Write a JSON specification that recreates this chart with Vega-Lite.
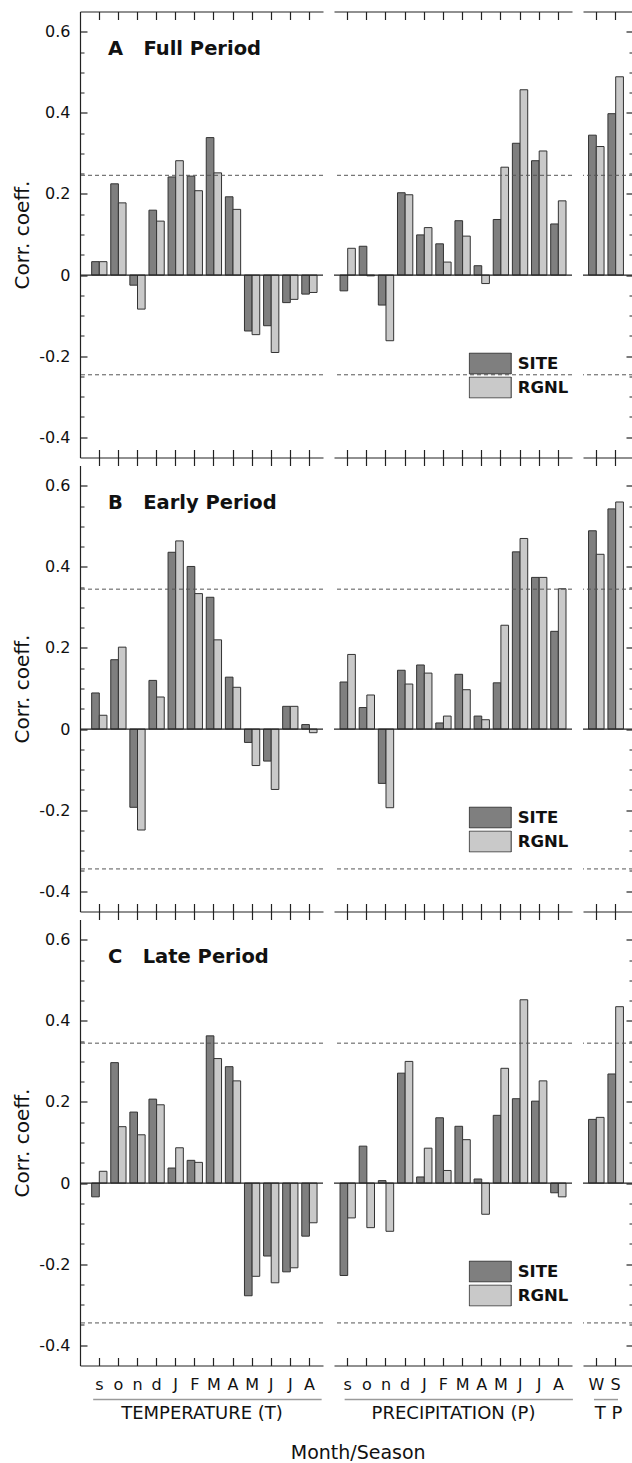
{
  "$schema": "https://vega.github.io/schema/vega-lite/v6.json",
  "padding": {"left": 12, "top": 10.5, "right": 0, "bottom": 0},
  "config": {
    "font": "DejaVu Sans",
    "view": {"stroke": null},
    "axis": {"minExtent": 0, "labelFont": "DejaVu Sans", "titleFont": "DejaVu Sans", "labelColor": "#111111", "titleColor": "#111111", "domainColor": "#222222", "tickColor": "#222222", "grid": false, "labelFontSize": 16, "titleFontWeight": "normal"},
    "legend": {"orient": "none", "legendX": 134.7, "legendY": 341, "title": null, "direction": "vertical", "gridAlign": "none", "clipHeight": 22, "symbolType": "M-1,-0.5H1V0.5H-1Z", "symbolSize": 1764, "symbolStrokeColor": "#333333", "symbolStrokeWidth": 1, "symbolOpacity": 1, "labelFont": "DejaVu Sans", "labelFontWeight": "bold", "labelFontSize": 16.5, "labelColor": "#111111", "labelOffset": 6, "rowPadding": 2, "padding": 0}
  },
  "title": {"text": "Month/Season", "orient": "bottom", "anchor": "middle", "fontSize": 19, "fontWeight": "normal", "font": "DejaVu Sans", "color": "#111111", "offset": 21, "dx": 35},
  "datasets": {
    "corr": [
      {"p":"A","g":"T","m":"sep","src":"SITE","v":0.033},{"p":"A","g":"T","m":"sep","src":"RGNL","v":0.033},
      {"p":"A","g":"T","m":"oct","src":"SITE","v":0.225},{"p":"A","g":"T","m":"oct","src":"RGNL","v":0.178},
      {"p":"A","g":"T","m":"nov","src":"SITE","v":-0.025},{"p":"A","g":"T","m":"nov","src":"RGNL","v":-0.084},
      {"p":"A","g":"T","m":"dec","src":"SITE","v":0.160},{"p":"A","g":"T","m":"dec","src":"RGNL","v":0.133},
      {"p":"A","g":"T","m":"Jan","src":"SITE","v":0.242},{"p":"A","g":"T","m":"Jan","src":"RGNL","v":0.282},
      {"p":"A","g":"T","m":"Feb","src":"SITE","v":0.244},{"p":"A","g":"T","m":"Feb","src":"RGNL","v":0.208},
      {"p":"A","g":"T","m":"Mar","src":"SITE","v":0.339},{"p":"A","g":"T","m":"Mar","src":"RGNL","v":0.252},
      {"p":"A","g":"T","m":"Apr","src":"SITE","v":0.193},{"p":"A","g":"T","m":"Apr","src":"RGNL","v":0.162},
      {"p":"A","g":"T","m":"May","src":"SITE","v":-0.138},{"p":"A","g":"T","m":"May","src":"RGNL","v":-0.147},
      {"p":"A","g":"T","m":"Jun","src":"SITE","v":-0.125},{"p":"A","g":"T","m":"Jun","src":"RGNL","v":-0.191},
      {"p":"A","g":"T","m":"Jul","src":"SITE","v":-0.068},{"p":"A","g":"T","m":"Jul","src":"RGNL","v":-0.060},
      {"p":"A","g":"T","m":"Aug","src":"SITE","v":-0.047},{"p":"A","g":"T","m":"Aug","src":"RGNL","v":-0.043},

      {"p":"A","g":"P","m":"sep","src":"SITE","v":-0.039},{"p":"A","g":"P","m":"sep","src":"RGNL","v":0.066},
      {"p":"A","g":"P","m":"oct","src":"SITE","v":0.071},{"p":"A","g":"P","m":"oct","src":"RGNL","v":-0.002},
      {"p":"A","g":"P","m":"nov","src":"SITE","v":-0.074},{"p":"A","g":"P","m":"nov","src":"RGNL","v":-0.162},
      {"p":"A","g":"P","m":"dec","src":"SITE","v":0.203},{"p":"A","g":"P","m":"dec","src":"RGNL","v":0.198},
      {"p":"A","g":"P","m":"Jan","src":"SITE","v":0.099},{"p":"A","g":"P","m":"Jan","src":"RGNL","v":0.117},
      {"p":"A","g":"P","m":"Feb","src":"SITE","v":0.077},{"p":"A","g":"P","m":"Feb","src":"RGNL","v":0.032},
      {"p":"A","g":"P","m":"Mar","src":"SITE","v":0.134},{"p":"A","g":"P","m":"Mar","src":"RGNL","v":0.096},
      {"p":"A","g":"P","m":"Apr","src":"SITE","v":0.023},{"p":"A","g":"P","m":"Apr","src":"RGNL","v":-0.021},
      {"p":"A","g":"P","m":"May","src":"SITE","v":0.137},{"p":"A","g":"P","m":"May","src":"RGNL","v":0.266},
      {"p":"A","g":"P","m":"Jun","src":"SITE","v":0.325},{"p":"A","g":"P","m":"Jun","src":"RGNL","v":0.457},
      {"p":"A","g":"P","m":"Jul","src":"SITE","v":0.282},{"p":"A","g":"P","m":"Jul","src":"RGNL","v":0.306},
      {"p":"A","g":"P","m":"Aug","src":"SITE","v":0.126},{"p":"A","g":"P","m":"Aug","src":"RGNL","v":0.183},

      {"p":"A","g":"S","m":"W","src":"SITE","v":0.345},{"p":"A","g":"S","m":"W","src":"RGNL","v":0.317},
      {"p":"A","g":"S","m":"S","src":"SITE","v":0.398},{"p":"A","g":"S","m":"S","src":"RGNL","v":0.489},

      {"p":"B","g":"T","m":"sep","src":"SITE","v":0.089},{"p":"B","g":"T","m":"sep","src":"RGNL","v":0.034},
      {"p":"B","g":"T","m":"oct","src":"SITE","v":0.171},{"p":"B","g":"T","m":"oct","src":"RGNL","v":0.202},
      {"p":"B","g":"T","m":"nov","src":"SITE","v":-0.193},{"p":"B","g":"T","m":"nov","src":"RGNL","v":-0.249},
      {"p":"B","g":"T","m":"dec","src":"SITE","v":0.120},{"p":"B","g":"T","m":"dec","src":"RGNL","v":0.079},
      {"p":"B","g":"T","m":"Jan","src":"SITE","v":0.436},{"p":"B","g":"T","m":"Jan","src":"RGNL","v":0.464},
      {"p":"B","g":"T","m":"Feb","src":"SITE","v":0.401},{"p":"B","g":"T","m":"Feb","src":"RGNL","v":0.334},
      {"p":"B","g":"T","m":"Mar","src":"SITE","v":0.325},{"p":"B","g":"T","m":"Mar","src":"RGNL","v":0.220},
      {"p":"B","g":"T","m":"Apr","src":"SITE","v":0.128},{"p":"B","g":"T","m":"Apr","src":"RGNL","v":0.103},
      {"p":"B","g":"T","m":"May","src":"SITE","v":-0.033},{"p":"B","g":"T","m":"May","src":"RGNL","v":-0.090},
      {"p":"B","g":"T","m":"Jun","src":"SITE","v":-0.079},{"p":"B","g":"T","m":"Jun","src":"RGNL","v":-0.149},
      {"p":"B","g":"T","m":"Jul","src":"SITE","v":0.056},{"p":"B","g":"T","m":"Jul","src":"RGNL","v":0.056},
      {"p":"B","g":"T","m":"Aug","src":"SITE","v":0.011},{"p":"B","g":"T","m":"Aug","src":"RGNL","v":-0.009},

      {"p":"B","g":"P","m":"sep","src":"SITE","v":0.116},{"p":"B","g":"P","m":"sep","src":"RGNL","v":0.184},
      {"p":"B","g":"P","m":"oct","src":"SITE","v":0.053},{"p":"B","g":"P","m":"oct","src":"RGNL","v":0.084},
      {"p":"B","g":"P","m":"nov","src":"SITE","v":-0.134},{"p":"B","g":"P","m":"nov","src":"RGNL","v":-0.194},
      {"p":"B","g":"P","m":"dec","src":"SITE","v":0.145},{"p":"B","g":"P","m":"dec","src":"RGNL","v":0.111},
      {"p":"B","g":"P","m":"Jan","src":"SITE","v":0.158},{"p":"B","g":"P","m":"Jan","src":"RGNL","v":0.138},
      {"p":"B","g":"P","m":"Feb","src":"SITE","v":0.015},{"p":"B","g":"P","m":"Feb","src":"RGNL","v":0.032},
      {"p":"B","g":"P","m":"Mar","src":"SITE","v":0.135},{"p":"B","g":"P","m":"Mar","src":"RGNL","v":0.097},
      {"p":"B","g":"P","m":"Apr","src":"SITE","v":0.032},{"p":"B","g":"P","m":"Apr","src":"RGNL","v":0.023},
      {"p":"B","g":"P","m":"May","src":"SITE","v":0.114},{"p":"B","g":"P","m":"May","src":"RGNL","v":0.256},
      {"p":"B","g":"P","m":"Jun","src":"SITE","v":0.437},{"p":"B","g":"P","m":"Jun","src":"RGNL","v":0.470},
      {"p":"B","g":"P","m":"Jul","src":"SITE","v":0.374},{"p":"B","g":"P","m":"Jul","src":"RGNL","v":0.374},
      {"p":"B","g":"P","m":"Aug","src":"SITE","v":0.241},{"p":"B","g":"P","m":"Aug","src":"RGNL","v":0.346},

      {"p":"B","g":"S","m":"W","src":"SITE","v":0.489},{"p":"B","g":"S","m":"W","src":"RGNL","v":0.431},
      {"p":"B","g":"S","m":"S","src":"SITE","v":0.543},{"p":"B","g":"S","m":"S","src":"RGNL","v":0.560},

      {"p":"C","g":"T","m":"sep","src":"SITE","v":-0.034},{"p":"C","g":"T","m":"sep","src":"RGNL","v":0.029},
      {"p":"C","g":"T","m":"oct","src":"SITE","v":0.297},{"p":"C","g":"T","m":"oct","src":"RGNL","v":0.139},
      {"p":"C","g":"T","m":"nov","src":"SITE","v":0.175},{"p":"C","g":"T","m":"nov","src":"RGNL","v":0.119},
      {"p":"C","g":"T","m":"dec","src":"SITE","v":0.207},{"p":"C","g":"T","m":"dec","src":"RGNL","v":0.193},
      {"p":"C","g":"T","m":"Jan","src":"SITE","v":0.037},{"p":"C","g":"T","m":"Jan","src":"RGNL","v":0.087},
      {"p":"C","g":"T","m":"Feb","src":"SITE","v":0.056},{"p":"C","g":"T","m":"Feb","src":"RGNL","v":0.051},
      {"p":"C","g":"T","m":"Mar","src":"SITE","v":0.363},{"p":"C","g":"T","m":"Mar","src":"RGNL","v":0.307},
      {"p":"C","g":"T","m":"Apr","src":"SITE","v":0.287},{"p":"C","g":"T","m":"Apr","src":"RGNL","v":0.252},
      {"p":"C","g":"T","m":"May","src":"SITE","v":-0.278},{"p":"C","g":"T","m":"May","src":"RGNL","v":-0.230},
      {"p":"C","g":"T","m":"Jun","src":"SITE","v":-0.180},{"p":"C","g":"T","m":"Jun","src":"RGNL","v":-0.246},
      {"p":"C","g":"T","m":"Jul","src":"SITE","v":-0.219},{"p":"C","g":"T","m":"Jul","src":"RGNL","v":-0.209},
      {"p":"C","g":"T","m":"Aug","src":"SITE","v":-0.131},{"p":"C","g":"T","m":"Aug","src":"RGNL","v":-0.098},

      {"p":"C","g":"P","m":"sep","src":"SITE","v":-0.228},{"p":"C","g":"P","m":"sep","src":"RGNL","v":-0.086},
      {"p":"C","g":"P","m":"oct","src":"SITE","v":0.091},{"p":"C","g":"P","m":"oct","src":"RGNL","v":-0.110},
      {"p":"C","g":"P","m":"nov","src":"SITE","v":0.006},{"p":"C","g":"P","m":"nov","src":"RGNL","v":-0.119},
      {"p":"C","g":"P","m":"dec","src":"SITE","v":0.271},{"p":"C","g":"P","m":"dec","src":"RGNL","v":0.300},
      {"p":"C","g":"P","m":"Jan","src":"SITE","v":0.015},{"p":"C","g":"P","m":"Jan","src":"RGNL","v":0.086},
      {"p":"C","g":"P","m":"Feb","src":"SITE","v":0.161},{"p":"C","g":"P","m":"Feb","src":"RGNL","v":0.031},
      {"p":"C","g":"P","m":"Mar","src":"SITE","v":0.140},{"p":"C","g":"P","m":"Mar","src":"RGNL","v":0.107},
      {"p":"C","g":"P","m":"Apr","src":"SITE","v":0.010},{"p":"C","g":"P","m":"Apr","src":"RGNL","v":-0.077},
      {"p":"C","g":"P","m":"May","src":"SITE","v":0.167},{"p":"C","g":"P","m":"May","src":"RGNL","v":0.283},
      {"p":"C","g":"P","m":"Jun","src":"SITE","v":0.208},{"p":"C","g":"P","m":"Jun","src":"RGNL","v":0.452},
      {"p":"C","g":"P","m":"Jul","src":"SITE","v":0.202},{"p":"C","g":"P","m":"Jul","src":"RGNL","v":0.252},
      {"p":"C","g":"P","m":"Aug","src":"SITE","v":-0.024},{"p":"C","g":"P","m":"Aug","src":"RGNL","v":-0.034},

      {"p":"C","g":"S","m":"W","src":"SITE","v":0.157},{"p":"C","g":"S","m":"W","src":"RGNL","v":0.162},
      {"p":"C","g":"S","m":"S","src":"SITE","v":0.269},{"p":"C","g":"S","m":"S","src":"RGNL","v":0.435}
    ],
    "thr": [
      {"p":"A","t":0.246},{"p":"A","t":-0.246},
      {"p":"B","t":0.345},{"p":"B","t":-0.345},
      {"p":"C","t":0.345},{"p":"C","t":-0.345}
    ]
  },
  "columns": 3,
  "spacing": {"row": 8, "column": 11},
  "bounds": "flush",
  "align": "each",
  "resolve": {
    "scale": {"x": "independent", "y": "independent", "xOffset": "independent", "color": "independent"},
    "axis": {"x": "independent", "y": "independent"},
    "legend": {"color": "independent"}
  },
  "concat": [
    {
      "width": 243, "height": 446,
      "title": {"text": "A\u00a0\u00a0\u00a0Full Period", "anchor": "start", "frame": "group", "orient": "top", "offset": -63.5, "dx": 28, "baseline": "alphabetic", "font": "DejaVu Sans", "fontSize": 19.5, "fontWeight": "bold", "color": "#111111"},
      "resolve": {"axis": {"x": "independent", "y": "independent"}},
      "layer": [
        {
          "data": {"name": "corr"},
          "transform": [{"filter": "datum.p == 'A' && datum.g == 'T'"}],
          "mark": {"type": "bar", "stroke": "#333333", "strokeWidth": 1},
          "encoding": {
            "x": {"field": "m", "type": "nominal", "scale": {"domain": ["sep","oct","nov","dec","Jan","Feb","Mar","Apr","May","Jun","Jul","Aug"], "paddingInner": 0.2, "paddingOuter": 0.461, "align": 0.662, "round": false},
                  "axis": {"orient": "bottom", "labels": false, "tickSize": -8, "tickWidth": 1.2, "domain": true, "domainWidth": 1.2, "title": null}},
            "xOffset": {"field": "src", "type": "nominal", "scale": {"domain": ["SITE","RGNL"], "paddingInner": 0, "paddingOuter": 0}},
            "y": {"field": "v", "type": "quantitative", "scale": {"domain": [-0.45, 0.65], "nice": false, "zero": false},
                  "axis": {"orient": "left", "values": [-0.4,-0.2,0,0.2,0.4,0.6], "tickSize": -7, "tickWidth": 1.2, "domain": true, "domainWidth": 1.2, "labelPadding": 17, "labelExpr": "datum.value == 0 ? '0' : (datum.value < 0 ? '-' : '') + format(abs(datum.value), '.1f')", "title": "Corr. coeff.", "titleFontSize": 20, "titlePadding": 6}},
            "color": {"field": "src", "type": "nominal", "scale": {"domain": ["SITE","RGNL"], "range": ["#7f7f7f","#c9c9c9"]}, "legend": null}
          }
        },
        {"data": {"values": [{}]}, "mark": {"type": "rule", "color": "#222222", "strokeWidth": 1.2}, "encoding": {"y": {"datum": 0, "axis": null}}},
        {"data": {"name": "thr"}, "transform": [{"filter": "datum.p == 'A'"}], "mark": {"type": "rule", "color": "#555555", "strokeWidth": 1, "strokeDash": [4, 3]}, "encoding": {"y": {"field": "t", "type": "quantitative", "axis": null}}},
        {
          "data": {"name": "corr"},
          "transform": [{"filter": "datum.p == 'A' && datum.g == 'T'"}],
          "mark": {"type": "point", "opacity": 0},
          "encoding": {
            "x": {"field": "m", "type": "nominal", "axis": {"orient": "top", "labels": false, "tickSize": -8, "tickWidth": 1.2, "domain": true, "domainWidth": 1.2, "title": null}},
            "y": {"field": "v", "type": "quantitative", "axis": {"orient": "left", "values": [-0.35,-0.3,-0.25,-0.15,-0.1,-0.05,0.05,0.1,0.15,0.25,0.3,0.35,0.45,0.5,0.55], "tickSize": -4, "tickWidth": 1, "domain": false, "labels": false, "title": null}}
          }
        }
      ]
    },
    {
      "width": 238, "height": 446,
      "resolve": {"axis": {"x": "independent", "y": "independent"}},
      "layer": [
        {
          "data": {"name": "corr"},
          "transform": [{"filter": "datum.p == 'A' && datum.g == 'P'"}],
          "mark": {"type": "bar", "stroke": "#333333", "strokeWidth": 1},
          "encoding": {
            "x": {"field": "m", "type": "nominal", "scale": {"domain": ["sep","oct","nov","dec","Jan","Feb","Mar","Apr","May","Jun","Jul","Aug"], "paddingInner": 0.2, "paddingOuter": 0.314, "align": 0.502, "round": false},
                  "axis": {"orient": "bottom", "labels": false, "tickSize": -8, "tickWidth": 1.2, "domain": true, "domainWidth": 1.2, "title": null}},
            "xOffset": {"field": "src", "type": "nominal", "scale": {"domain": ["SITE","RGNL"], "paddingInner": 0, "paddingOuter": 0}},
            "y": {"field": "v", "type": "quantitative", "scale": {"domain": [-0.45, 0.65], "nice": false, "zero": false}, "axis": null},
            "color": {"field": "src", "type": "nominal", "scale": {"domain": ["SITE","RGNL"], "range": ["#7f7f7f","#c9c9c9"]}, "legend": {}}
          }
        },
        {"data": {"values": [{}]}, "mark": {"type": "rule", "color": "#222222", "strokeWidth": 1.2}, "encoding": {"y": {"datum": 0, "axis": null}}},
        {"data": {"name": "thr"}, "transform": [{"filter": "datum.p == 'A'"}], "mark": {"type": "rule", "color": "#555555", "strokeWidth": 1, "strokeDash": [4, 3]}, "encoding": {"y": {"field": "t", "type": "quantitative", "axis": null}}},
        {
          "data": {"name": "corr"},
          "transform": [{"filter": "datum.p == 'A' && datum.g == 'P'"}],
          "mark": {"type": "point", "opacity": 0},
          "encoding": {
            "x": {"field": "m", "type": "nominal", "axis": {"orient": "top", "labels": false, "tickSize": -8, "tickWidth": 1.2, "domain": true, "domainWidth": 1.2, "title": null}},
            "y": {"field": "v", "type": "quantitative", "axis": null}
          }
        }
      ]
    },
    {
      "width": 50, "height": 446,
      "resolve": {"axis": {"x": "independent", "y": "independent"}},
      "layer": [
        {
          "data": {"name": "corr"},
          "transform": [{"filter": "datum.p == 'A' && datum.g == 'S'"}],
          "mark": {"type": "bar", "stroke": "#333333", "strokeWidth": 1},
          "encoding": {
            "x": {"field": "m", "type": "nominal", "scale": {"domain": ["W","S"], "paddingInner": 0.2, "paddingOuter": 0.389, "align": 0.367, "round": false},
                  "axis": {"orient": "bottom", "labels": false, "tickSize": -8, "tickWidth": 1.2, "domain": true, "domainWidth": 1.2, "title": null}},
            "xOffset": {"field": "src", "type": "nominal", "scale": {"domain": ["SITE","RGNL"], "paddingInner": 0, "paddingOuter": 0}},
            "y": {"field": "v", "type": "quantitative", "scale": {"domain": [-0.45, 0.65], "nice": false, "zero": false},
                  "axis": {"orient": "right", "values": [-0.4,-0.2,0,0.2,0.4,0.6], "tickSize": -7, "tickWidth": 1.2, "domain": false, "labels": false, "title": null}},
            "color": {"field": "src", "type": "nominal", "scale": {"domain": ["SITE","RGNL"], "range": ["#7f7f7f","#c9c9c9"]}, "legend": null}
          }
        },
        {"data": {"values": [{}]}, "mark": {"type": "rule", "color": "#222222", "strokeWidth": 1.2}, "encoding": {"y": {"datum": 0, "axis": null}}},
        {"data": {"name": "thr"}, "transform": [{"filter": "datum.p == 'A'"}], "mark": {"type": "rule", "color": "#555555", "strokeWidth": 1, "strokeDash": [4, 3]}, "encoding": {"y": {"field": "t", "type": "quantitative", "axis": null}}},
        {
          "data": {"name": "corr"},
          "transform": [{"filter": "datum.p == 'A' && datum.g == 'S'"}],
          "mark": {"type": "point", "opacity": 0},
          "encoding": {
            "x": {"field": "m", "type": "nominal", "axis": {"orient": "top", "labels": false, "tickSize": -8, "tickWidth": 1.2, "domain": true, "domainWidth": 1.2, "title": null}},
            "y": {"field": "v", "type": "quantitative", "axis": {"orient": "right", "values": [-0.35,-0.3,-0.25,-0.15,-0.1,-0.05,0.05,0.1,0.15,0.25,0.3,0.35,0.45,0.5,0.55], "tickSize": -4, "tickWidth": 1, "domain": false, "labels": false, "title": null}}
          }
        }
      ]
    },

    {
      "width": 243, "height": 446,
      "title": {"text": "B\u00a0\u00a0\u00a0Early Period", "anchor": "start", "frame": "group", "orient": "top", "offset": -72, "dx": 28, "baseline": "alphabetic", "font": "DejaVu Sans", "fontSize": 19.5, "fontWeight": "bold", "color": "#111111"},
      "resolve": {"axis": {"x": "independent", "y": "independent"}},
      "layer": [
        {
          "data": {"name": "corr"},
          "transform": [{"filter": "datum.p == 'B' && datum.g == 'T'"}],
          "mark": {"type": "bar", "stroke": "#333333", "strokeWidth": 1},
          "encoding": {
            "x": {"field": "m", "type": "nominal", "scale": {"domain": ["sep","oct","nov","dec","Jan","Feb","Mar","Apr","May","Jun","Jul","Aug"], "paddingInner": 0.2, "paddingOuter": 0.461, "align": 0.662, "round": false},
                  "axis": {"orient": "bottom", "labels": false, "tickSize": -8, "tickWidth": 1.2, "domain": true, "domainWidth": 1.2, "title": null}},
            "xOffset": {"field": "src", "type": "nominal", "scale": {"domain": ["SITE","RGNL"], "paddingInner": 0, "paddingOuter": 0}},
            "y": {"field": "v", "type": "quantitative", "scale": {"domain": [-0.45, 0.65], "nice": false, "zero": false},
                  "axis": {"orient": "left", "values": [-0.4,-0.2,0,0.2,0.4,0.6], "tickSize": -7, "tickWidth": 1.2, "domain": true, "domainWidth": 1.2, "labelPadding": 17, "labelExpr": "datum.value == 0 ? '0' : (datum.value < 0 ? '-' : '') + format(abs(datum.value), '.1f')", "title": "Corr. coeff.", "titleFontSize": 20, "titlePadding": 6}},
            "color": {"field": "src", "type": "nominal", "scale": {"domain": ["SITE","RGNL"], "range": ["#7f7f7f","#c9c9c9"]}, "legend": null}
          }
        },
        {"data": {"values": [{}]}, "mark": {"type": "rule", "color": "#222222", "strokeWidth": 1.2}, "encoding": {"y": {"datum": 0, "axis": null}}},
        {"data": {"name": "thr"}, "transform": [{"filter": "datum.p == 'B'"}], "mark": {"type": "rule", "color": "#555555", "strokeWidth": 1, "strokeDash": [4, 3]}, "encoding": {"y": {"field": "t", "type": "quantitative", "axis": null}}},
        {
          "data": {"name": "corr"},
          "transform": [{"filter": "datum.p == 'B' && datum.g == 'T'"}],
          "mark": {"type": "point", "opacity": 0},
          "encoding": {
            "x": {"field": "m", "type": "nominal", "axis": {"orient": "top", "labels": false, "tickSize": 8, "tickWidth": 1.2, "domain": false, "title": null}},
            "y": {"field": "v", "type": "quantitative", "axis": {"orient": "left", "values": [-0.35,-0.3,-0.25,-0.15,-0.1,-0.05,0.05,0.1,0.15,0.25,0.3,0.35,0.45,0.5,0.55], "tickSize": -4, "tickWidth": 1, "domain": false, "labels": false, "title": null}}
          }
        }
      ]
    },
    {
      "width": 238, "height": 446,
      "resolve": {"axis": {"x": "independent", "y": "independent"}},
      "layer": [
        {
          "data": {"name": "corr"},
          "transform": [{"filter": "datum.p == 'B' && datum.g == 'P'"}],
          "mark": {"type": "bar", "stroke": "#333333", "strokeWidth": 1},
          "encoding": {
            "x": {"field": "m", "type": "nominal", "scale": {"domain": ["sep","oct","nov","dec","Jan","Feb","Mar","Apr","May","Jun","Jul","Aug"], "paddingInner": 0.2, "paddingOuter": 0.314, "align": 0.502, "round": false},
                  "axis": {"orient": "bottom", "labels": false, "tickSize": -8, "tickWidth": 1.2, "domain": true, "domainWidth": 1.2, "title": null}},
            "xOffset": {"field": "src", "type": "nominal", "scale": {"domain": ["SITE","RGNL"], "paddingInner": 0, "paddingOuter": 0}},
            "y": {"field": "v", "type": "quantitative", "scale": {"domain": [-0.45, 0.65], "nice": false, "zero": false}, "axis": null},
            "color": {"field": "src", "type": "nominal", "scale": {"domain": ["SITE","RGNL"], "range": ["#7f7f7f","#c9c9c9"]}, "legend": {}}
          }
        },
        {"data": {"values": [{}]}, "mark": {"type": "rule", "color": "#222222", "strokeWidth": 1.2}, "encoding": {"y": {"datum": 0, "axis": null}}},
        {"data": {"name": "thr"}, "transform": [{"filter": "datum.p == 'B'"}], "mark": {"type": "rule", "color": "#555555", "strokeWidth": 1, "strokeDash": [4, 3]}, "encoding": {"y": {"field": "t", "type": "quantitative", "axis": null}}},
        {
          "data": {"name": "corr"},
          "transform": [{"filter": "datum.p == 'B' && datum.g == 'P'"}],
          "mark": {"type": "point", "opacity": 0},
          "encoding": {
            "x": {"field": "m", "type": "nominal", "axis": {"orient": "top", "labels": false, "tickSize": 8, "tickWidth": 1.2, "domain": false, "title": null}},
            "y": {"field": "v", "type": "quantitative", "axis": null}
          }
        }
      ]
    },
    {
      "width": 50, "height": 446,
      "resolve": {"axis": {"x": "independent", "y": "independent"}},
      "layer": [
        {
          "data": {"name": "corr"},
          "transform": [{"filter": "datum.p == 'B' && datum.g == 'S'"}],
          "mark": {"type": "bar", "stroke": "#333333", "strokeWidth": 1},
          "encoding": {
            "x": {"field": "m", "type": "nominal", "scale": {"domain": ["W","S"], "paddingInner": 0.2, "paddingOuter": 0.389, "align": 0.367, "round": false},
                  "axis": {"orient": "bottom", "labels": false, "tickSize": -8, "tickWidth": 1.2, "domain": true, "domainWidth": 1.2, "title": null}},
            "xOffset": {"field": "src", "type": "nominal", "scale": {"domain": ["SITE","RGNL"], "paddingInner": 0, "paddingOuter": 0}},
            "y": {"field": "v", "type": "quantitative", "scale": {"domain": [-0.45, 0.65], "nice": false, "zero": false},
                  "axis": {"orient": "right", "values": [-0.4,-0.2,0,0.2,0.4,0.6], "tickSize": -7, "tickWidth": 1.2, "domain": false, "labels": false, "title": null}},
            "color": {"field": "src", "type": "nominal", "scale": {"domain": ["SITE","RGNL"], "range": ["#7f7f7f","#c9c9c9"]}, "legend": null}
          }
        },
        {"data": {"values": [{}]}, "mark": {"type": "rule", "color": "#222222", "strokeWidth": 1.2}, "encoding": {"y": {"datum": 0, "axis": null}}},
        {"data": {"name": "thr"}, "transform": [{"filter": "datum.p == 'B'"}], "mark": {"type": "rule", "color": "#555555", "strokeWidth": 1, "strokeDash": [4, 3]}, "encoding": {"y": {"field": "t", "type": "quantitative", "axis": null}}},
        {
          "data": {"name": "corr"},
          "transform": [{"filter": "datum.p == 'B' && datum.g == 'S'"}],
          "mark": {"type": "point", "opacity": 0},
          "encoding": {
            "x": {"field": "m", "type": "nominal", "axis": {"orient": "top", "labels": false, "tickSize": 8, "tickWidth": 1.2, "domain": false, "title": null}},
            "y": {"field": "v", "type": "quantitative", "axis": {"orient": "right", "values": [-0.35,-0.3,-0.25,-0.15,-0.1,-0.05,0.05,0.1,0.15,0.25,0.3,0.35,0.45,0.5,0.55], "tickSize": -4, "tickWidth": 1, "domain": false, "labels": false, "title": null}}
          }
        }
      ]
    },

    {
      "width": 243, "height": 446,
      "title": {"text": "C\u00a0\u00a0\u00a0Late Period", "anchor": "start", "frame": "group", "orient": "top", "offset": -72, "dx": 28, "baseline": "alphabetic", "font": "DejaVu Sans", "fontSize": 19.5, "fontWeight": "bold", "color": "#111111"},
      "resolve": {"axis": {"x": "independent", "y": "independent"}},
      "layer": [
        {
          "data": {"name": "corr"},
          "transform": [{"filter": "datum.p == 'C' && datum.g == 'T'"}],
          "mark": {"type": "bar", "stroke": "#333333", "strokeWidth": 1},
          "encoding": {
            "x": {"field": "m", "type": "nominal", "scale": {"domain": ["sep","oct","nov","dec","Jan","Feb","Mar","Apr","May","Jun","Jul","Aug"], "paddingInner": 0.2, "paddingOuter": 0.461, "align": 0.662, "round": false},
                  "axis": {"orient": "bottom", "labels": true, "labelExpr": "substring(datum.value, 0, 1)", "labelOverlap": false, "labelAngle": 0, "labelFontSize": 16, "labelPadding": 27, "labelBaseline": "middle", "tickSize": -8, "tickWidth": 1.2, "domain": true, "domainWidth": 1.2, "title": "TEMPERATURE (T)", "titleFontSize": 18, "titlePadding": 12}},
            "xOffset": {"field": "src", "type": "nominal", "scale": {"domain": ["SITE","RGNL"], "paddingInner": 0, "paddingOuter": 0}},
            "y": {"field": "v", "type": "quantitative", "scale": {"domain": [-0.45, 0.65], "nice": false, "zero": false},
                  "axis": {"orient": "left", "values": [-0.4,-0.2,0,0.2,0.4,0.6], "tickSize": -7, "tickWidth": 1.2, "domain": true, "domainWidth": 1.2, "labelPadding": 17, "labelExpr": "datum.value == 0 ? '0' : (datum.value < 0 ? '-' : '') + format(abs(datum.value), '.1f')", "title": "Corr. coeff.", "titleFontSize": 20, "titlePadding": 6}},
            "color": {"field": "src", "type": "nominal", "scale": {"domain": ["SITE","RGNL"], "range": ["#7f7f7f","#c9c9c9"]}, "legend": null}
          }
        },
        {"data": {"values": [{}]}, "mark": {"type": "rule", "color": "#222222", "strokeWidth": 1.2}, "encoding": {"y": {"datum": 0, "axis": null}}},
        {"data": {"name": "thr"}, "transform": [{"filter": "datum.p == 'C'"}], "mark": {"type": "rule", "color": "#555555", "strokeWidth": 1, "strokeDash": [4, 3]}, "encoding": {"y": {"field": "t", "type": "quantitative", "axis": null}}},
        {
          "data": {"name": "corr"},
          "transform": [{"filter": "datum.p == 'C' && datum.g == 'T'"}],
          "mark": {"type": "point", "opacity": 0},
          "encoding": {
            "x": {"field": "m", "type": "nominal", "axis": {"orient": "top", "labels": false, "tickSize": 8, "tickWidth": 1.2, "domain": false, "title": null}},
            "y": {"field": "v", "type": "quantitative", "axis": {"orient": "left", "values": [-0.35,-0.3,-0.25,-0.15,-0.1,-0.05,0.05,0.1,0.15,0.25,0.3,0.35,0.45,0.5,0.55], "tickSize": -4, "tickWidth": 1, "domain": false, "labels": false, "title": null}}
          }
        },
        {"data": {"values": [{}]}, "mark": {"type": "rule", "color": "#9a9a9a", "strokeWidth": 1.5}, "encoding": {"x": {"datum": "sep", "bandPosition": 0.1, "axis": null}, "x2": {"datum": "Aug", "bandPosition": 1.3}, "y": {"datum": -0.534, "axis": null}}}
      ]
    },
    {
      "width": 238, "height": 446,
      "resolve": {"axis": {"x": "independent", "y": "independent"}},
      "layer": [
        {
          "data": {"name": "corr"},
          "transform": [{"filter": "datum.p == 'C' && datum.g == 'P'"}],
          "mark": {"type": "bar", "stroke": "#333333", "strokeWidth": 1},
          "encoding": {
            "x": {"field": "m", "type": "nominal", "scale": {"domain": ["sep","oct","nov","dec","Jan","Feb","Mar","Apr","May","Jun","Jul","Aug"], "paddingInner": 0.2, "paddingOuter": 0.314, "align": 0.502, "round": false},
                  "axis": {"orient": "bottom", "labels": true, "labelExpr": "substring(datum.value, 0, 1)", "labelOverlap": false, "labelAngle": 0, "labelFontSize": 16, "labelPadding": 27, "labelBaseline": "middle", "tickSize": -8, "tickWidth": 1.2, "domain": true, "domainWidth": 1.2, "title": "PRECIPITATION (P)", "titleFontSize": 18, "titlePadding": 12}},
            "xOffset": {"field": "src", "type": "nominal", "scale": {"domain": ["SITE","RGNL"], "paddingInner": 0, "paddingOuter": 0}},
            "y": {"field": "v", "type": "quantitative", "scale": {"domain": [-0.45, 0.65], "nice": false, "zero": false}, "axis": null},
            "color": {"field": "src", "type": "nominal", "scale": {"domain": ["SITE","RGNL"], "range": ["#7f7f7f","#c9c9c9"]}, "legend": {}}
          }
        },
        {"data": {"values": [{}]}, "mark": {"type": "rule", "color": "#222222", "strokeWidth": 1.2}, "encoding": {"y": {"datum": 0, "axis": null}}},
        {"data": {"name": "thr"}, "transform": [{"filter": "datum.p == 'C'"}], "mark": {"type": "rule", "color": "#555555", "strokeWidth": 1, "strokeDash": [4, 3]}, "encoding": {"y": {"field": "t", "type": "quantitative", "axis": null}}},
        {
          "data": {"name": "corr"},
          "transform": [{"filter": "datum.p == 'C' && datum.g == 'P'"}],
          "mark": {"type": "point", "opacity": 0},
          "encoding": {
            "x": {"field": "m", "type": "nominal", "axis": {"orient": "top", "labels": false, "tickSize": 8, "tickWidth": 1.2, "domain": false, "title": null}},
            "y": {"field": "v", "type": "quantitative", "axis": null}
          }
        },
        {"data": {"values": [{}]}, "mark": {"type": "rule", "color": "#9a9a9a", "strokeWidth": 1.5}, "encoding": {"x": {"datum": "sep", "bandPosition": 0.3, "axis": null}, "x2": {"datum": "Aug", "bandPosition": 1.45}, "y": {"datum": -0.534, "axis": null}}}
      ]
    },
    {
      "width": 50, "height": 446,
      "resolve": {"axis": {"x": "independent", "y": "independent"}},
      "layer": [
        {
          "data": {"name": "corr"},
          "transform": [{"filter": "datum.p == 'C' && datum.g == 'S'"}],
          "mark": {"type": "bar", "stroke": "#333333", "strokeWidth": 1},
          "encoding": {
            "x": {"field": "m", "type": "nominal", "scale": {"domain": ["W","S"], "paddingInner": 0.2, "paddingOuter": 0.389, "align": 0.367, "round": false},
                  "axis": {"orient": "bottom", "labels": true, "labelExpr": "substring(datum.value, 0, 1)", "labelOverlap": false, "labelAngle": 0, "labelFontSize": 16, "labelPadding": 27, "labelBaseline": "middle", "tickSize": -8, "tickWidth": 1.2, "domain": true, "domainWidth": 1.2, "title": "T P", "titleFontSize": 18, "titlePadding": 12}},
            "xOffset": {"field": "src", "type": "nominal", "scale": {"domain": ["SITE","RGNL"], "paddingInner": 0, "paddingOuter": 0}},
            "y": {"field": "v", "type": "quantitative", "scale": {"domain": [-0.45, 0.65], "nice": false, "zero": false},
                  "axis": {"orient": "right", "values": [-0.4,-0.2,0,0.2,0.4,0.6], "tickSize": -7, "tickWidth": 1.2, "domain": false, "labels": false, "title": null}},
            "color": {"field": "src", "type": "nominal", "scale": {"domain": ["SITE","RGNL"], "range": ["#7f7f7f","#c9c9c9"]}, "legend": null}
          }
        },
        {"data": {"values": [{}]}, "mark": {"type": "rule", "color": "#222222", "strokeWidth": 1.2}, "encoding": {"y": {"datum": 0, "axis": null}}},
        {"data": {"name": "thr"}, "transform": [{"filter": "datum.p == 'C'"}], "mark": {"type": "rule", "color": "#555555", "strokeWidth": 1, "strokeDash": [4, 3]}, "encoding": {"y": {"field": "t", "type": "quantitative", "axis": null}}},
        {
          "data": {"name": "corr"},
          "transform": [{"filter": "datum.p == 'C' && datum.g == 'S'"}],
          "mark": {"type": "point", "opacity": 0},
          "encoding": {
            "x": {"field": "m", "type": "nominal", "axis": {"orient": "top", "labels": false, "tickSize": 8, "tickWidth": 1.2, "domain": false, "title": null}},
            "y": {"field": "v", "type": "quantitative", "axis": {"orient": "right", "values": [-0.35,-0.3,-0.25,-0.15,-0.1,-0.05,0.05,0.1,0.15,0.25,0.3,0.35,0.45,0.5,0.55], "tickSize": -4, "tickWidth": 1, "domain": false, "labels": false, "title": null}}
          }
        },
        {"data": {"values": [{}]}, "mark": {"type": "rule", "color": "#9a9a9a", "strokeWidth": 1.5}, "encoding": {"x": {"datum": "W", "bandPosition": 0.35, "axis": null}, "x2": {"datum": "S", "bandPosition": 0.65}, "y": {"datum": -0.534, "axis": null}}}
      ]
    }
  ]
}
